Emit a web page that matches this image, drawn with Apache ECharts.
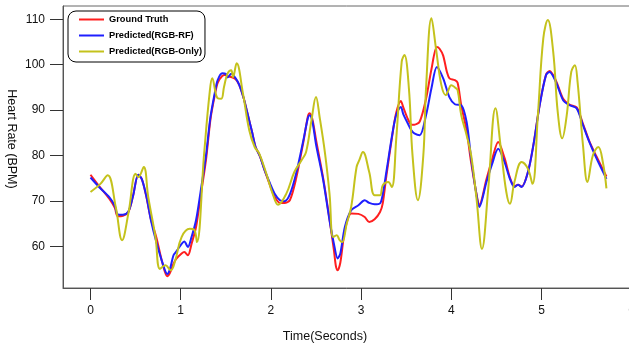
<!DOCTYPE html>
<html>
<head>
<meta charset="utf-8">
<title>Heart Rate</title>
<script src="https://cdn.jsdelivr.net/npm/echarts@6.0.0/dist/echarts.min.js"></script>
<style>
  html, body { margin: 0; padding: 0; background: #fff; }
  #chart { width: 629px; height: 347px; }
</style>
</head>
<body>
<div id="chart"></div>
<script>
// tick labels
const xTicks = [0, 1, 2, 3, 4, 5, 6]
const yTicks = [60, 70, 80, 90, 100, 110]

// Ground Truth
const gtTime = [0.00, 0.10, 0.21, 0.27, 0.30, 0.36, 0.42, 0.47, 0.53, 0.57, 0.62, 0.67, 0.73, 0.80, 0.85, 0.88, 0.92, 0.95, 1.01, 1.04,
  1.08, 1.12, 1.17, 1.22, 1.28, 1.33, 1.38, 1.41, 1.46, 1.50, 1.52, 1.56, 1.61, 1.65, 1.70, 1.74, 1.79, 1.83, 1.88, 1.93,
  1.99, 2.04, 2.10, 2.15, 2.21, 2.28, 2.36, 2.41, 2.43, 2.46, 2.50, 2.58, 2.65, 2.70, 2.72, 2.74, 2.77, 2.82, 2.89, 2.97,
  3.04, 3.09, 3.15, 3.21, 3.24, 3.28, 3.35, 3.39, 3.44, 3.47, 3.52, 3.56, 3.59, 3.65, 3.72, 3.78, 3.84, 3.87, 3.91, 3.95,
  3.98, 4.04, 4.07, 4.11, 4.17, 4.22, 4.28, 4.31, 4.39, 4.45, 4.52, 4.59, 4.65, 4.70, 4.74, 4.78, 4.85, 4.91, 4.98, 5.05,
  5.09, 5.16, 5.24, 5.31, 5.39, 5.46, 5.53, 5.61, 5.72]
const gtBpm = [75.8, 73.2, 70.5, 68.5, 66.7, 66.8, 67.6, 71.0, 75.8, 74.8, 70.9, 66.0, 62.0, 56.2, 53.5, 54.2, 56.2, 57.3, 58.5, 58.8,
  58.1, 60.6, 64.3, 71.0, 79.0, 88.0, 93.5, 96.0, 97.5, 97.8, 97.4, 97.3, 96.8, 95.5, 92.5, 89.3, 85.3, 81.9, 79.8, 76.8,
  73.5, 71.0, 69.6, 69.6, 70.2, 75.0, 83.0, 88.6, 89.3, 88.0, 83.5, 75.0, 66.0, 59.0, 55.8, 54.8, 56.5, 63.5, 67.3, 67.2,
  66.5, 65.4, 66.0, 67.6, 69.5, 75.5, 85.0, 89.5, 92.0, 90.5, 88.0, 86.8, 86.8, 87.5, 92.5, 99.0, 103.9, 103.5, 102.0, 98.5,
  97.0, 96.6, 96.0, 91.1, 85.5, 78.5, 71.5, 69.1, 74.8, 79.0, 83.0, 79.5, 75.2, 73.3, 73.6, 73.2, 76.4, 82.3, 91.2, 97.8,
  98.6, 96.5, 92.5, 91.2, 90.6, 87.0, 83.2, 79.8, 75.4]

// Predicted(RGB-RF)
const rfTime = [0.00, 0.10, 0.21, 0.27, 0.30, 0.36, 0.42, 0.47, 0.53, 0.57, 0.62, 0.67, 0.73, 0.80, 0.85, 0.88, 0.92, 0.95, 1.01, 1.04,
  1.08, 1.12, 1.17, 1.22, 1.28, 1.33, 1.38, 1.41, 1.46, 1.50, 1.52, 1.56, 1.61, 1.65, 1.70, 1.74, 1.79, 1.83, 1.88, 1.93,
  1.99, 2.04, 2.10, 2.15, 2.21, 2.28, 2.36, 2.41, 2.43, 2.46, 2.50, 2.58, 2.65, 2.70, 2.74, 2.77, 2.82, 2.89, 2.97, 3.04,
  3.09, 3.15, 3.21, 3.24, 3.28, 3.35, 3.39, 3.44, 3.47, 3.52, 3.56, 3.59, 3.65, 3.72, 3.78, 3.84, 3.91, 3.98, 4.04, 4.11,
  4.17, 4.22, 4.28, 4.31, 4.39, 4.45, 4.52, 4.59, 4.65, 4.70, 4.74, 4.78, 4.85, 4.91, 4.98, 5.05, 5.09, 5.16, 5.24, 5.31,
  5.39, 5.46, 5.53, 5.61, 5.72]
const rfBpm = [75.2, 73.0, 70.8, 68.9, 67.1, 67.0, 67.7, 71.0, 75.8, 74.8, 71.0, 65.8, 61.0, 56.3, 54.0, 55.0, 58.1, 58.9, 60.6, 61.1,
  59.9, 62.1, 65.8, 72.0, 80.0, 88.5, 94.0, 96.6, 98.1, 98.0, 97.2, 98.0, 97.0, 95.5, 92.5, 89.3, 85.3, 81.9, 79.8, 76.8,
  73.9, 71.7, 70.2, 70.0, 71.5, 76.1, 83.4, 88.3, 88.9, 87.5, 82.5, 74.6, 65.8, 60.5, 57.4, 58.5, 64.3, 68.0, 69.1, 70.2,
  69.6, 69.3, 69.5, 71.5, 76.4, 85.2, 89.0, 90.7, 89.0, 87.0, 85.5, 84.9, 84.5, 88.9, 94.8, 99.5, 97.0, 92.8, 91.3, 91.1,
  87.4, 79.4, 71.3, 68.7, 74.2, 78.0, 81.5, 78.6, 74.9, 73.1, 73.6, 73.1, 76.4, 82.3, 91.1, 97.7, 98.4, 96.2, 92.2, 91.1,
  90.4, 86.7, 83.0, 79.4, 74.9]

// Predicted(RGB-Only)
const onlyTime = [0.00, 0.11, 0.19, 0.28, 0.35, 0.42, 0.50, 0.53, 0.59, 0.64, 0.72, 0.77, 0.83, 0.89, 0.94, 1.01, 1.10, 1.15, 1.18, 1.26,
  1.32, 1.35, 1.41, 1.45, 1.48, 1.52, 1.56, 1.58, 1.62, 1.69, 1.76, 1.82, 1.87, 1.95, 2.02, 2.08, 2.17, 2.26, 2.34, 2.39,
  2.45, 2.50, 2.54, 2.60, 2.65, 2.69, 2.73, 2.76, 2.79, 2.84, 2.89, 2.95, 2.98, 3.02, 3.09, 3.15, 3.21, 3.24, 3.30, 3.34,
  3.39, 3.45, 3.48, 3.53, 3.57, 3.63, 3.69, 3.72, 3.78, 3.83, 3.89, 3.94, 3.96, 4.00, 4.04, 4.07, 4.11, 4.17, 4.22, 4.28,
  4.34, 4.41, 4.49, 4.55, 4.61, 4.65, 4.70, 4.78, 4.85, 4.90, 4.96, 5.02, 5.07, 5.13, 5.18, 5.23, 5.28, 5.33, 5.37, 5.40,
  5.46, 5.51, 5.57, 5.63, 5.68, 5.72]
const onlyBpm = [72.0, 73.8, 75.7, 68.7, 61.4, 67.3, 76.0, 75.3, 77.5, 70.9, 62.1, 55.1, 55.9, 54.8, 57.0, 62.1, 63.9, 63.7, 61.0, 80.5,
  93.7, 97.0, 92.6, 92.5, 95.1, 98.1, 98.8, 97.3, 100.3, 93.7, 85.6, 81.9, 80.5, 76.0, 71.6, 69.2, 71.6, 76.4, 79.0, 80.8,
  87.8, 92.9, 88.5, 80.5, 71.6, 62.1, 62.5, 61.5, 61.0, 65.0, 68.7, 77.5, 79.0, 80.8, 76.4, 71.3, 71.3, 73.5, 74.2, 73.1,
  83.8, 100.6, 102.1, 94.8, 80.1, 70.2, 80.1, 94.8, 110.2, 103.6, 95.5, 93.3, 94.0, 95.5, 95.0, 94.4, 88.9, 84.5, 80.1, 70.5,
  59.5, 72.8, 90.4, 81.5, 72.0, 69.4, 74.2, 78.6, 77.1, 73.8, 88.9, 105.8, 109.8, 102.8, 89.6, 83.8, 88.9, 98.4, 99.9, 96.2,
  82.3, 74.2, 80.1, 81.9, 78.6, 72.8]

const pairs = (xs, ys) => xs.map((x, i) => [x, ys[i]])

const font = '"Liberation Sans", Arial, Helvetica, sans-serif'

const chart = echarts.init(document.getElementById('chart'), null, { renderer: 'canvas' })

const option = {
  animation: false,
  backgroundColor: '#fff',
  textStyle: { fontFamily: font },
  grid: {
    left: 63,
    top: 6,
    width: 586,
    height: 282,
    outerBoundsMode: 'none',
    containLabel: false,
    show: true,
    borderColor: '#666',
    borderWidth: 1,
    backgroundColor: 'transparent'
  },
  legend: {
    orient: 'vertical',
    left: 68,
    top: 11,
    padding: [3, 3, 5, 11],
    icon: 'rect',
    itemWidth: 25,
    itemHeight: 2,
    itemGap: 5,
    borderColor: '#000',
    borderWidth: 1,
    borderRadius: 8,
    backgroundColor: '#fff',
    textStyle: { fontFamily: font, fontSize: 9.3, fontWeight: 'bold', color: '#000', lineHeight: 11 },
    data: ['Ground Truth', 'Predicted(RGB-RF)', 'Predicted(RGB-Only)']
  },
  xAxis: {
    type: 'value',
    min: -0.305,
    max: 6.192,
    name: 'Time(Seconds)',
    nameLocation: 'middle',
    nameGap: 42,
    nameMoveOverlap: false,
    nameTextStyle: { fontFamily: font, fontSize: 12.5, color: '#111', padding: [0, 62, 0, 0] },
    axisLine: { show: true, onZero: false, lineStyle: { color: '#555', width: 1 } },
    axisTick: { show: true, customValues: xTicks, length: 12, lineStyle: { color: '#333' } },
    axisLabel: { customValues: xTicks, margin: 17, fontSize: 12, color: '#111', fontFamily: font },
    splitLine: { show: false }
  },
  yAxis: {
    type: 'value',
    min: 50.9,
    max: 112.9,
    name: 'Heart Rate (BPM)',
    nameLocation: 'middle',
    nameRotate: -90,
    nameGap: 45,
    nameMoveOverlap: false,
    nameTextStyle: { fontFamily: font, fontSize: 12.5, color: '#111', padding: [0, 16, 0, 0] },
    axisLine: { show: true, onZero: false, lineStyle: { color: '#555', width: 1 } },
    axisTick: { show: true, customValues: yTicks, length: 13, lineStyle: { color: '#333' } },
    axisLabel: { customValues: yTicks, margin: 18, fontSize: 12, color: '#111', fontFamily: font },
    splitLine: { show: false }
  },
  series: [
    {
      name: 'Ground Truth',
      type: 'line',
      data: pairs(gtTime, gtBpm),
      symbol: 'none',
      smooth: 0.3,
      lineStyle: { color: '#ff1f1f', width: 2 },
      itemStyle: { color: '#ff1f1f' }
    },
    {
      name: 'Predicted(RGB-RF)',
      type: 'line',
      data: pairs(rfTime, rfBpm),
      symbol: 'none',
      smooth: 0.3,
      lineStyle: { color: '#1f1fff', width: 2 },
      itemStyle: { color: '#1f1fff' }
    },
    {
      name: 'Predicted(RGB-Only)',
      type: 'line',
      data: pairs(onlyTime, onlyBpm),
      symbol: 'none',
      smooth: 0.4,
      lineStyle: { color: '#c4c21c', width: 2 },
      itemStyle: { color: '#c4c21c' }
    }
  ]
}

chart.setOption(option)
</script>
</body>
</html>
